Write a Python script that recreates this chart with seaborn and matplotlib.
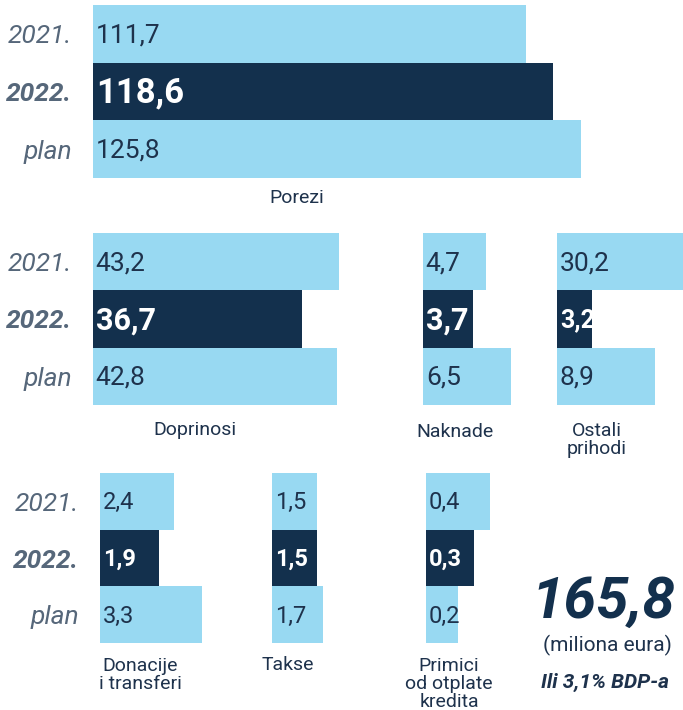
import pandas as pd
import matplotlib.pyplot as plt
import seaborn as sns

# Data (milioni eura)
periods = ["2021.", "2022.", "plan"]
categories = ["Porezi", "Doprinosi", "Naknade", "Ostali\nprihodi",
              "Donacije\ni transferi", "Takse", "Primici\nod otplate\nkredita"]
v2021 = [111.7, 43.2, 4.7, 30.2, 2.4, 1.5, 0.4]
v2022 = [118.6, 36.7, 3.7, 3.2, 1.9, 1.5, 0.3]
vplan = [125.8, 42.8, 6.5, 8.9, 3.3, 1.7, 0.2]
total_2022 = "165,8"
total_note = "(miliona eura)"
gdp_note = "Ili 3,1% BDP-a"

LIGHT = "#98D9F2"
DARK = "#13304D"
YEAR_C = "#56677A"
TEXT_C = "#1E324C"

W, H = 683, 710
sns.set_theme(style="white")
plt.rcParams["font.family"] = ["Roboto", "DejaVu Sans"]

fig = plt.figure(figsize=(W / 100, H / 100), dpi=100)

# panel layout in pixels: left, top, bottom, width, px per unit, label x, label y
layout = [
    (93, 5, 178, 500, 3.88, 297, 198),
    (93, 233, 405, 280, 5.7, 195, 430),
    (423, 233, 405, 100, 13.5, 455, 432),
    (557, 233, 405, 126, 11.0, 597, 440),
    (100, 473, 643, 120, 31.0, 140, 675),
    (272, 473, 643, 70, 30.0, 288, 665),
    (426, 473, 643, 80, 160.0, 449, 684),
]
val_sizes = [(19, 25), (19, 22), (19, 22), (19, 18), (17, 17), (17, 17), (17, 17)]

def fmt(v):
    return f"{v:.1f}".replace(".", ",")

for i, (left, top, bottom, width, scale, lx, ly) in enumerate(layout):
    ax = fig.add_axes([left / W, 1 - bottom / H, width / W, (bottom - top) / H])
    df = pd.DataFrame({"period": periods, "value": [v2021[i], v2022[i], vplan[i]]})
    sns.barplot(data=df, x="value", y="period", hue="period",
                palette=[LIGHT, DARK, LIGHT], orient="h", width=1.0,
                saturation=1, linewidth=0, legend=False, ax=ax)
    ax.set_xlim(0, width / scale)
    ax.set_xticks([])
    ax.set_xlabel("")
    ax.set_ylabel("")
    sns.despine(ax=ax, left=True, bottom=True)

    small, big = val_sizes[i]
    for j, v in enumerate(df["value"]):
        bold = j == 1
        ax.annotate(fmt(v), xy=(0, j), xytext=(2, -1), textcoords="offset points",
                    ha="left", va="center",
                    color="white" if bold else TEXT_C,
                    fontsize=big if bold else small,
                    fontweight="bold" if bold else "normal")

    if left < 110:
        ax.tick_params(axis="y", length=0, pad=15)
        ax.set_yticks(range(3))
        ax.set_yticklabels(periods, fontsize=19, color=YEAR_C, style="italic")
        ax.get_yticklabels()[1].set_fontweight("bold")
    else:
        ax.set_yticks([])

    fig.text(lx / W, 1 - ly / H, categories[i], ha="center", va="center",
             fontsize=14, color=TEXT_C, linespacing=1.0)

fig.text(603 / W, 1 - 602 / H, total_2022, ha="center", va="center",
         fontsize=42, fontweight="bold", style="italic", color=DARK)
fig.text(607 / W, 1 - 645 / H, total_note, ha="center", va="center",
         fontsize=15, color=TEXT_C)
fig.text(605 / W, 1 - 682 / H, gdp_note, ha="center", va="center",
         fontsize=15, fontweight="bold", style="italic", color=TEXT_C)

fig.savefig("out.png", dpi=100)
